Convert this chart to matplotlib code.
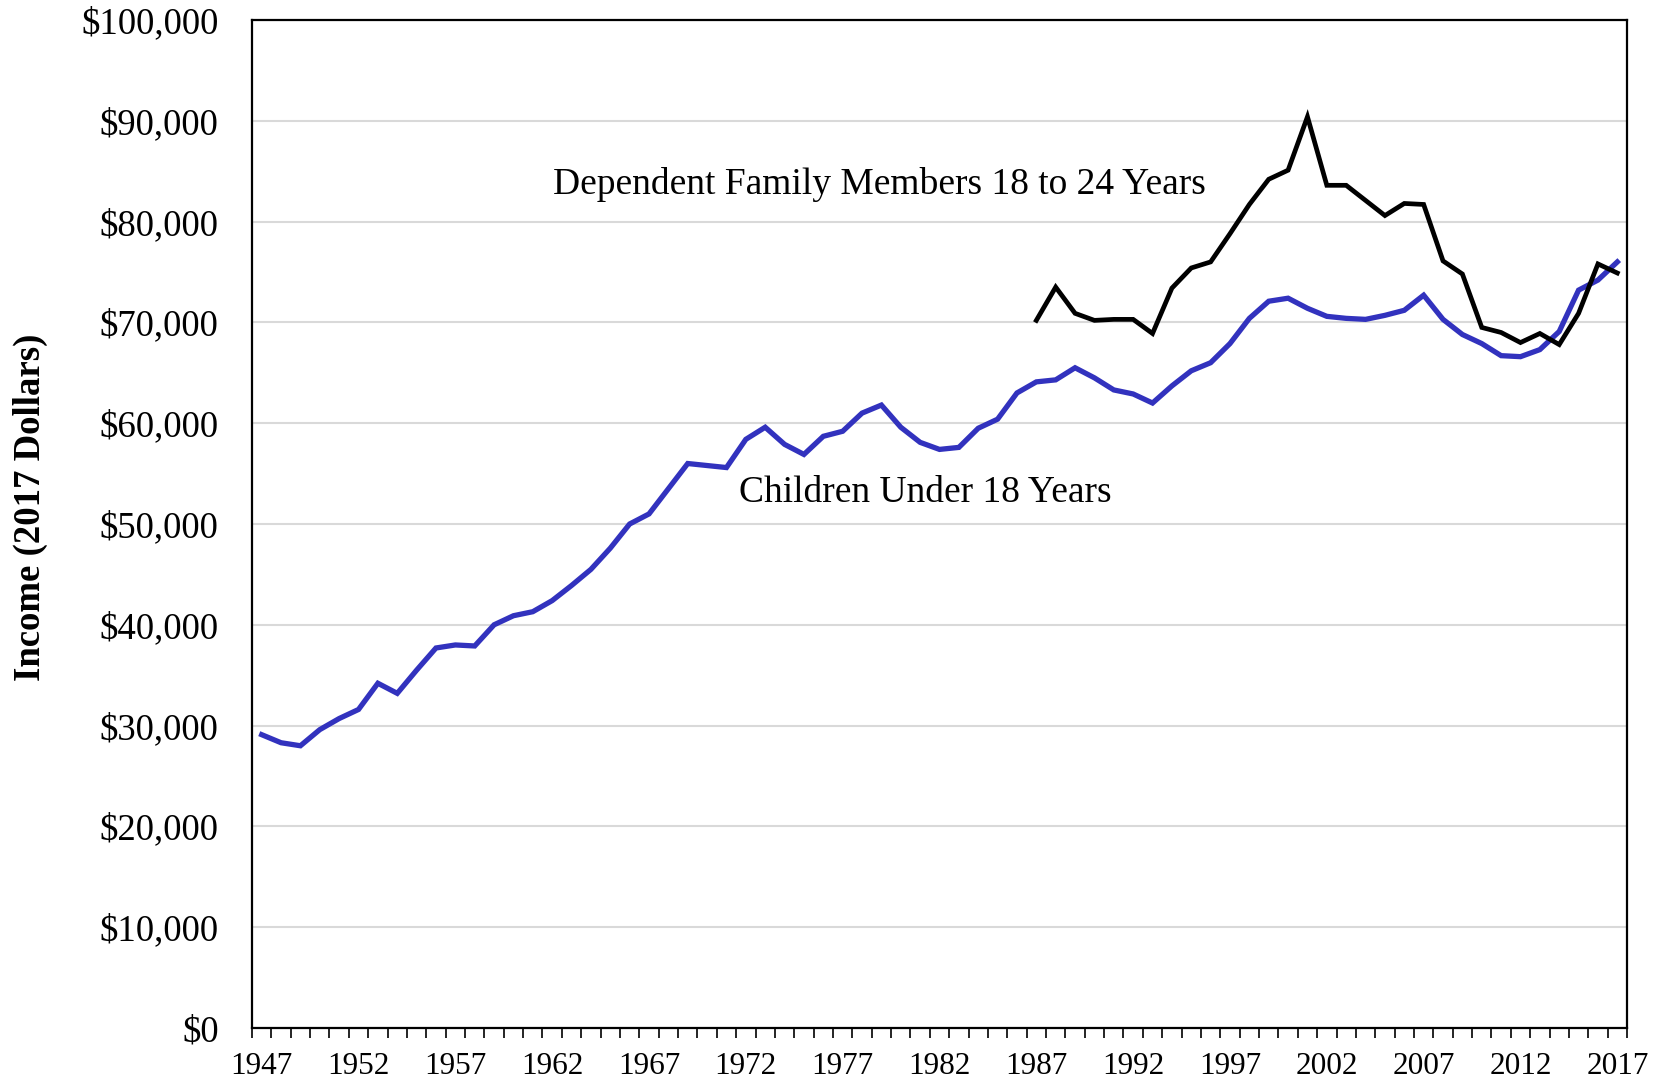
import numpy as np
import matplotlib
matplotlib.use("Agg")
import matplotlib.pyplot as plt
from matplotlib.ticker import FuncFormatter, MultipleLocator

# median family income (2017 dollars)
years = list(range(1947, 2018))
children = [29.1, 28.3, 28.0, 29.6, 30.7, 31.6, 34.2, 33.2, 35.5, 37.7,
            38.0, 37.9, 40.0, 40.9, 41.3, 42.4, 43.9, 45.5, 47.6, 50.0,
            51.0, 53.5, 56.0, 55.8, 55.6, 58.4, 59.6, 57.9, 56.9, 58.7,
            59.2, 61.0, 61.8, 59.6, 58.1, 57.4, 57.6, 59.5, 60.4, 63.0,
            64.1, 64.3, 65.5, 64.5, 63.3, 62.9, 62.0, 63.7, 65.2, 66.0,
            67.9, 70.4, 72.1, 72.4, 71.4, 70.6, 70.4, 70.3, 70.7, 71.2,
            72.7, 70.3, 68.8, 67.9, 66.7, 66.6, 67.3, 69.1, 73.2, 74.2,
            76.0]
dep_years = list(range(1987, 2018))
dependents = [70.2, 73.5, 70.9, 70.2, 70.3, 70.3, 68.9, 73.4, 75.4, 76.0,
              78.8, 81.7, 84.2, 85.1, 90.4, 83.6, 83.6, 82.1, 80.6, 81.8,
              81.7, 76.1, 74.8, 69.5, 69.0, 68.0, 68.9, 67.8, 70.9, 75.8,
              74.9]
xlabels = list(range(1947, 2018, 5))

plt.rcParams["font.family"] = ["Liberation Serif", "DejaVu Serif"]

fig = plt.figure(figsize=(16.62, 10.84), dpi=100)
ax = fig.add_axes([252 / 1662, 1 - 1028 / 1084, 1375 / 1662, 1008 / 1084])

ax.plot(years, np.array(children) * 1000, color="#3232BE", lw=3.8,
        solid_joinstyle="miter", zorder=3)
ax.plot(dep_years, np.array(dependents) * 1000, color="black", lw=3.4,
        solid_joinstyle="miter", zorder=4)

ax.set_xlim(1946.5, 2017.5)
ax.set_ylim(0, 100000)
ax.yaxis.set_major_locator(MultipleLocator(10000))
ax.yaxis.set_major_formatter(FuncFormatter(lambda v, p: f"${v:,.0f}"))
ax.grid(axis="y", color="#D9D9D9", lw=1.5, zorder=0)
ax.set_axisbelow(True)

ax.set_xticks(xlabels)
ax.set_xticklabels([str(y) for y in xlabels])
ax.set_xticks(np.arange(1946.5, 2018, 1.0), minor=True)
ax.tick_params(axis="x", which="major", length=0, pad=17, labelsize=22.5)
ax.tick_params(axis="x", which="minor", length=7, width=1.2, direction="out")
ax.tick_params(axis="y", length=0, pad=24, labelsize=26.5)

for s in ax.spines.values():
    s.set_linewidth(1.6)
    s.set_color("black")

fig.text(30 / 1662, 1 - 507 / 1084, "Income (2017 Dollars)", rotation=90,
         ha="center", va="center", fontsize=26.5, fontweight="bold")

ax.text(1962.06, 83700, "Dependent Family Members 18 to 24 Years",
        ha="left", va="center", fontsize=27)
ax.text(1971.67, 53100, "Children Under 18 Years",
        ha="left", va="center", fontsize=27)

fig.savefig("out.png", dpi=100, facecolor="white")
